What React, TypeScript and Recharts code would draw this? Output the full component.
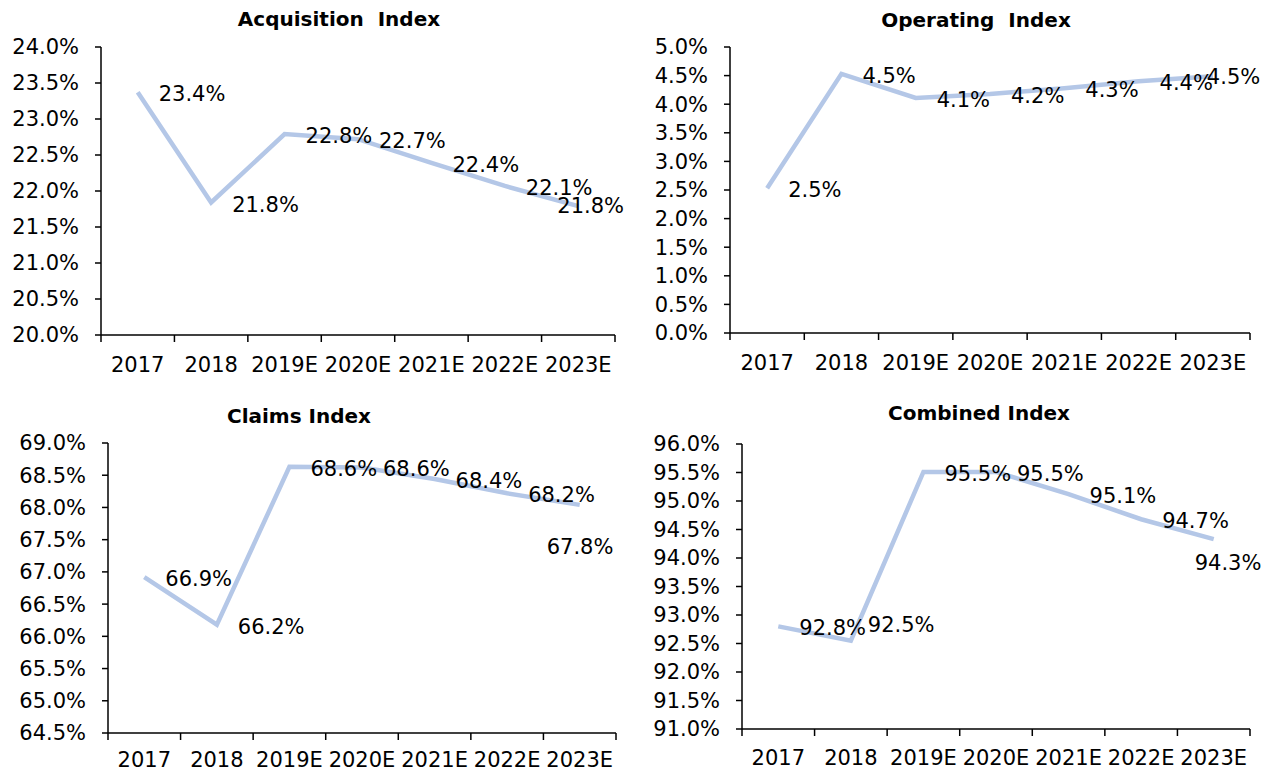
import React from "react";
import { LineChart, Line, XAxis, YAxis } from "recharts";

const categories = ["2017", "2018", "2019E", "2020E", "2021E", "2022E", "2023E"];

const acquisitionValues = [23.37, 21.84, 22.79, 22.72, 22.39, 22.07, 21.79];
const acquisitionLabels = ["23.4%", "21.8%", "22.8%", "22.7%", "22.4%", "22.1%", "21.8%"];
const acquisitionTicks = [20, 20.5, 21, 21.5, 22, 22.5, 23, 23.5, 24];

const operatingValues = [2.53, 4.53, 4.11, 4.18, 4.28, 4.4, 4.49];
const operatingLabels = ["2.5%", "4.5%", "4.1%", "4.2%", "4.3%", "4.4%", "4.5%"];
const operatingTicks = [0, 0.5, 1, 1.5, 2, 2.5, 3, 3.5, 4, 4.5, 5];

const claimsValues = [66.92, 66.18, 68.63, 68.62, 68.44, 68.22, 68.04];
const claimsLabels = ["66.9%", "66.2%", "68.6%", "68.6%", "68.4%", "68.2%", "67.8%"];
const claimsTicks = [64.5, 65, 65.5, 66, 66.5, 67, 67.5, 68, 68.5, 69];

const combinedValues = [92.8, 92.55, 95.51, 95.51, 95.12, 94.68, 94.33];
const combinedLabels = ["92.8%", "92.5%", "95.5%", "95.5%", "95.1%", "94.7%", "94.3%"];
const combinedTicks = [91, 91.5, 92, 92.5, 93, 93.5, 94, 94.5, 95, 95.5, 96];

const FONT = "'DejaVu Sans', Verdana, sans-serif";
const LINE_COLOR = "#b4c7e7";
const FS = 21;

type Nudge = { dx: number; dy: number };

interface PanelProps {
  title: string;
  values: number[];
  labels: string[];
  ticks: number[];
  left: number;
  top: number;
  width: number;
  height: number;
  margin: { top: number; right: number; bottom: number; left: number };
  yWidth: number;
  titleX: number;
  titleY: number;
  xLabelGap: number;
  nudges: Record<number, Nudge>;
}

const Panel: React.FC<PanelProps> = ({
  title, values, labels, ticks, left, top, width, height, margin, yWidth, titleX, titleY, xLabelGap, nudges,
}) => {
  const data = categories.map((c, i) => ({ year: c, value: values[i] }));
  const plotWidth = width - margin.left - margin.right - yWidth;

  const renderLabel = (props: any) => {
    const { x, y, index } = props;
    const n = nudges[index] || { dx: 21, dy: 2 };
    return (
      <text
        key={"lbl" + index}
        x={x + n.dx}
        y={y + n.dy}
        dominantBaseline="central"
        textAnchor="start"
        fontSize={FS}
        fontFamily={FONT}
        fill="#000"
      >
        {labels[index]}
      </text>
    );
  };

  // category label at band centre, tick marks on band edges
  const renderXTick = (props: any) => {
    const { x, y, payload, index } = props;
    const bw = plotWidth / categories.length;
    const last = index === categories.length - 1;
    return (
      <g key={"xt" + index}>
        <line x1={x - bw / 2} x2={x - bw / 2} y1={y} y2={y + 7} stroke="#000" strokeWidth={1.5} />
        {last && <line x1={x + bw / 2} x2={x + bw / 2} y1={y} y2={y + 7} stroke="#000" strokeWidth={1.5} />}
        <text x={x} y={y + xLabelGap} dy="0.71em" textAnchor="middle" fontSize={FS} fontFamily={FONT} fill="#000">
          {payload.value}
        </text>
      </g>
    );
  };

  return (
    <>
      <div
        style={{
          position: "absolute",
          left: titleX,
          top: titleY,
          transform: "translate(-50%, -50%)",
          fontFamily: FONT,
          fontWeight: "bold",
          fontSize: 20,
          whiteSpace: "pre",
          color: "#000",
        }}
      >
        {title}
      </div>
      <div style={{ position: "absolute", left, top }}>
        <LineChart width={width} height={height} data={data} margin={margin}>
          <XAxis
            dataKey="year"
            scale="band"
            interval={0}
            tickLine={false}
            tickSize={0}
            tickMargin={0}
            height={40}
            axisLine={{ stroke: "#000", strokeWidth: 1.5 }}
            tick={renderXTick}
          />
          <YAxis
            width={yWidth}
            domain={[ticks[0], ticks[ticks.length - 1]]}
            ticks={ticks}
            interval={0}
            tickSize={6}
            tickMargin={16}
            tickFormatter={(v: number) => v.toFixed(1) + "%"}
            axisLine={{ stroke: "#000", strokeWidth: 1.5 }}
            tickLine={{ stroke: "#000", strokeWidth: 1.5 }}
            tick={{ fill: "#000", fontSize: FS, fontFamily: FONT }}
          />
          <Line
            dataKey="value"
            stroke={LINE_COLOR}
            strokeWidth={4.5}
            dot={false}
            activeDot={false}
            isAnimationActive={false}
            label={renderLabel}
          />
        </LineChart>
      </div>
    </>
  );
};

export default function App() {
  return (
    <div style={{ position: "absolute", left: 0, top: 0, width: 1271, height: 772, background: "#fff" }}>
      <Panel
        title={"Acquisition  Index"}
        values={acquisitionValues}
        labels={acquisitionLabels}
        ticks={acquisitionTicks}
        left={0}
        top={0}
        width={640}
        height={390}
        margin={{ top: 47, right: 25, bottom: 15, left: 0 }}
        yWidth={101}
        titleX={339}
        titleY={19}
        xLabelGap={22}
        nudges={{ 6: { dx: -21, dy: 0 } }}
      />
      <Panel
        title={"Operating  Index"}
        values={operatingValues}
        labels={operatingLabels}
        ticks={operatingTicks}
        left={630}
        top={0}
        width={641}
        height={390}
        margin={{ top: 47, right: 21, bottom: 17, left: 0 }}
        yWidth={100}
        titleX={976}
        titleY={20}
        xLabelGap={22}
        nudges={{ 6: { dx: -6, dy: 1 } }}
      />
      <Panel
        title={"Claims Index"}
        values={claimsValues}
        labels={claimsLabels}
        ticks={claimsTicks}
        left={0}
        top={390}
        width={640}
        height={382}
        margin={{ top: 53, right: 24, bottom: -1, left: 0 }}
        yWidth={108}
        titleX={299}
        titleY={416}
        xLabelGap={19}
        nudges={{ 6: { dx: -33, dy: 42 } }}
      />
      <Panel
        title={"Combined Index"}
        values={combinedValues}
        labels={combinedLabels}
        ticks={combinedTicks}
        left={630}
        top={390}
        width={641}
        height={382}
        margin={{ top: 54, right: 21, bottom: 3, left: 0 }}
        yWidth={112}
        titleX={979}
        titleY={413}
        xLabelGap={21}
        nudges={{ 1: { dx: 17, dy: -16 }, 6: { dx: -19, dy: 24 } }}
      />
    </div>
  );
}
